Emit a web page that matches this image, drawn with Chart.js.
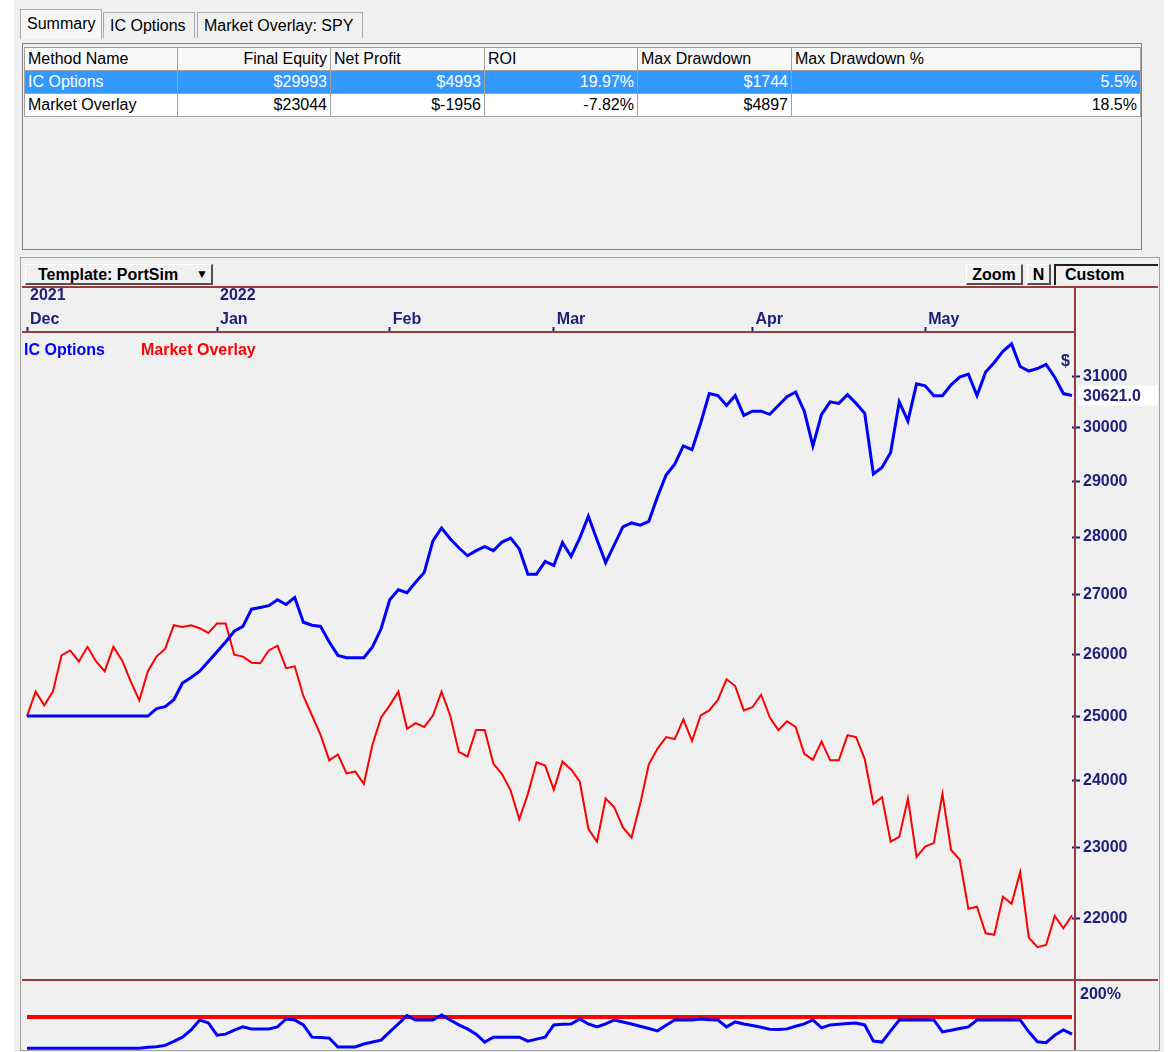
<!DOCTYPE html>
<html lang="en">
<head>
<meta charset="UTF-8" />
<meta name="viewport" content="width=device-width, initial-scale=1.0" />
<title>PortSim - Summary</title>
<style>
  body { margin: 0; width: 1174px; height: 1052px; position: relative; overflow: hidden; background: #ffffff; font-family: "Liberation Sans", Arial, sans-serif; }
  .abs { position: absolute; }
  #window { left: 14px; top: 0; width: 1150px; height: 1052px; background: #f0f0f0; }
  .tab { top: 12px; height: 26px; line-height: 25px; font-size: 16px; padding-left: 6px; border: 1px solid #a9a9a9; border-bottom: none; background: #f0f0f0; box-sizing: border-box; }
  .tab.on { top: 9px; height: 30px; line-height: 27px; background: #f7f7f7; }
  #grid { left: 22px; top: 43px; width: 1120px; height: 207px; border: 1px solid #828282; box-sizing: border-box; background: #f0f0f0; }
  #grid table { border-collapse: collapse; table-layout: fixed; font-size: 16px; margin: 3px 0 0 1px; }
  #grid td, #grid th { height: 22px; padding: 0 3px; border: 1px solid #a0a0a0; white-space: nowrap; font-weight: normal; text-align: left; overflow: hidden; }
  #grid th { background: #f8f8f8; }
  #grid td { background: #ffffff; text-align: right; }
  #grid td.name { text-align: left; }
  #grid th.r { text-align: right; }
  #grid tr.sel td { background: #3399ff; color: #ffffff; }
  #panel { left: 20px; top: 257px; width: 1140px; height: 794px; border: 1px solid #a0a0a0; box-sizing: border-box; }
  .btn { height: 21px; line-height: 19px; font-size: 16px; font-weight: bold; border-top: 1px solid #ffffff; border-left: 1px solid #ffffff; border-right: 2px solid #505050; border-bottom: 2px solid #505050; box-sizing: border-box; background: #f0f0f0; text-align: center; }
  #custom { left: 1054px; top: 264px; width: 104px; height: 21px; border-top: 2px solid #202020; border-left: 2px solid #202020; box-sizing: border-box; font-size: 16px; font-weight: bold; line-height: 18px; padding-left: 9px; }
  .rl { background: #993b3b; z-index: 2; }
  canvas { position: absolute; }
  .lg { font-size: 16px; font-weight: bold; z-index: 3; }
</style>
</head>
<body>
  <div id="window" class="abs"></div>

  <div class="abs tab on" style="left:20px; width:82px;">Summary</div>
  <div class="abs tab" style="left:103px; width:92px;">IC Options</div>
  <div class="abs tab" style="left:197px; width:166px;">Market Overlay: SPY</div>

  <div id="grid" class="abs"><table id="summary"></table></div>

  <div id="panel" class="abs"></div>
  <div class="abs btn" style="left:25px; top:264px; width:188px; text-align:left; padding-left:12px;">Template: PortSim<span style="position:absolute; left:170px; font-size:12px;">&#9660;</span></div>
  <div class="abs btn" style="left:966px; top:264px; width:57px;">Zoom</div>
  <div class="abs btn" style="left:1027px; top:264px; width:24px;">N</div>
  <div id="custom" class="abs">Custom</div>

  <canvas id="mainCanvas" width="1136" height="693" style="left:22px; top:287px;"></canvas>
  <canvas id="ratioCanvas" width="1136" height="70" style="left:22px; top:980px;"></canvas>

  <div class="abs rl" style="left:22px; top:286px; width:1136px; height:2px;"></div>
  <div class="abs rl" style="left:22px; top:331px; width:1053px; height:2px;"></div>
  <div class="abs rl" style="left:22px; top:979px; width:1136px; height:2px;"></div>
  <div class="abs rl" style="left:1074px; top:287px; width:2px; height:763px;"></div>

  <div class="abs lg" style="left:24px; top:341px; color:#0000ff;">IC Options</div>
  <div class="abs lg" style="left:141px; top:341px; color:#ff0000;">Market Overlay</div>
  <div class="abs lg" style="left:1080px; top:985px; color:#20207a;">200%</div>

  <script src="https://cdn.jsdelivr.net/npm/chart.js@4.4.1/dist/chart.umd.min.js"></script>
  <script>
    // summary table
    const summaryHeader = ['Method Name', 'Final Equity', 'Net Profit', 'ROI', 'Max Drawdown', 'Max Drawdown %'];
    const colWidths = [153, 153, 154, 153, 154, 349];
    const methodNames = ['IC Options', 'Market Overlay'];
    const finalEquity = ['$29993', '$23044'];
    const netProfit = ['$4993', '$-1956'];
    const roi = ['19.97%', '-7.82%'];
    const maxDrawdown = ['$1744', '$4897'];
    const maxDrawdownPct = ['5.5%', '18.5%'];

    // trading days shown on the chart
    const dates = [
      '2021-12-01','2021-12-02','2021-12-03','2021-12-06','2021-12-07','2021-12-08','2021-12-09','2021-12-10','2021-12-13','2021-12-14','2021-12-15',
      '2021-12-16','2021-12-17','2021-12-20','2021-12-21','2021-12-22','2021-12-23','2021-12-27','2021-12-28','2021-12-29','2021-12-30','2021-12-31',
      '2022-01-03','2022-01-04','2022-01-05','2022-01-06','2022-01-07','2022-01-10','2022-01-11','2022-01-12','2022-01-13','2022-01-14',
      '2022-01-18','2022-01-19','2022-01-20','2022-01-21','2022-01-24','2022-01-25','2022-01-26','2022-01-27','2022-01-28','2022-01-31',
      '2022-02-01','2022-02-02','2022-02-03','2022-02-04','2022-02-07','2022-02-08','2022-02-09','2022-02-10','2022-02-11','2022-02-14',
      '2022-02-15','2022-02-16','2022-02-17','2022-02-18','2022-02-22','2022-02-23','2022-02-24','2022-02-25','2022-02-28',
      '2022-03-01','2022-03-02','2022-03-03','2022-03-04','2022-03-07','2022-03-08','2022-03-09','2022-03-10','2022-03-11','2022-03-14','2022-03-15',
      '2022-03-16','2022-03-17','2022-03-18','2022-03-21','2022-03-22','2022-03-23','2022-03-24','2022-03-25','2022-03-28','2022-03-29','2022-03-30','2022-03-31',
      '2022-04-01','2022-04-04','2022-04-05','2022-04-06','2022-04-07','2022-04-08','2022-04-11','2022-04-12','2022-04-13','2022-04-14',
      '2022-04-18','2022-04-19','2022-04-20','2022-04-21','2022-04-22','2022-04-25','2022-04-26','2022-04-27','2022-04-28','2022-04-29',
      '2022-05-02','2022-05-03','2022-05-04','2022-05-05','2022-05-06','2022-05-09','2022-05-10','2022-05-11','2022-05-12','2022-05-13',
      '2022-05-16','2022-05-17','2022-05-18','2022-05-19','2022-05-20','2022-05-23','2022-05-24','2022-05-25'
    ];
    const monthNames = ['Jan', 'Feb', 'Mar', 'Apr', 'May', 'Jun', 'Jul', 'Aug', 'Sep', 'Oct', 'Nov', 'Dec'];

    // equity curves ($)
    const icOptions = [
      25000, 25000, 25000, 25000, 25000, 25000, 25000, 25000, 25000, 25000, 25000, 25000, 25000, 25000, 25000,
      25120, 25150, 25260, 25530, 25620, 25720, 25880, 26040, 26200, 26380,
      26460, 26750, 26780, 26810, 26910, 26830, 26950, 26530, 26480, 26460,
      26200, 25980, 25940, 25940, 25940, 26120, 26420, 26910, 27080, 27030,
      27210, 27380, 27930, 28160, 27970, 27810, 27670, 27760, 27830, 27760,
      27910, 27980, 27790, 27350, 27350, 27570, 27500, 27900, 27660, 27980,
      28370, 27950, 27550, 27860, 28180, 28250, 28210, 28280, 28720, 29120,
      29320, 29660, 29590, 30090, 30660, 30620, 30430, 30620, 30240, 30320,
      30320, 30260, 30430, 30600, 30690, 30320, 29660, 30260, 30500, 30470,
      30640, 30470, 30280, 29140, 29260, 29540, 30500, 30130, 30850, 30810,
      30620, 30620, 30830, 30980, 31040, 30620, 31080, 31270, 31490, 31640,
      31190, 31100, 31150, 31230, 30980, 30660, 30621
    ];
    const marketOverlay = [
      25000, 25390, 25170, 25390, 25980, 26060, 25880, 26120, 25880, 25720,
      26120, 25900, 25560, 25250, 25720, 25960, 26090, 26480, 26450, 26480,
      26430, 26350, 26510, 26510, 25990, 25960, 25860, 25850, 26060, 26140,
      25770, 25800, 25320, 25010, 24700, 24310, 24400, 24110, 24140, 23950,
      24550, 24980, 25170, 25390, 24800, 24890, 24830, 25010, 25390, 25010,
      24440, 24370, 24780, 24780, 24260, 24100, 23850, 23420, 23800, 24280,
      24230, 23860, 24290, 24170, 23990, 23280, 23090, 23730, 23600, 23300,
      23150, 23650, 24250, 24490, 24670, 24640, 24950, 24610, 25010, 25090,
      25260, 25590, 25480, 25090, 25140, 25340, 24980, 24780, 24920, 24830,
      24410, 24320, 24600, 24310, 24310, 24700, 24670, 24330, 23650, 23750,
      23090, 23160, 23730, 22870, 23020, 23070, 23800, 22970, 22830, 22130,
      22160, 21790, 21770, 22300, 22200, 22650, 21730, 21600, 21630, 22030,
      21860, 22040
    ];
    const yTicks = [22000, 23000, 24000, 25000, 26000, 27000, 28000, 29000, 30000, 31000];

    // lower pane (%)
    const ratioLine = [
      5, 5, 5, 5, 5, 5, 5, 5, 5, 5, 5, 5, 5, 5,
      8, 10, 14, 26, 39, 61, 91, 82, 45, 48,
      60, 70, 64, 64, 64, 70, 94, 91, 76, 39,
      38, 36, 9, 9, 9, 18, 24, 30, 55, 79,
      104, 91, 91, 91, 106, 91, 76, 64, 48, 24,
      39, 39, 39, 39, 27, 33, 39, 76, 78, 79,
      94, 79, 70, 79, 91, 85, 79, 72, 65, 58,
      75, 91, 91, 91, 94, 92, 91, 70, 85, 79,
      74, 69, 63, 62, 64, 72, 79, 91, 67, 76,
      78, 80, 82, 76, 27, 24, 58, 91, 91, 91,
      91, 91, 55, 60, 65, 70, 91, 91, 91, 91,
      91, 91, 55, 25, 22, 45, 61, 48
    ];
    const ratioLevel = 100;

    const navy = '#20207a';
    const fontFamily = '"Liberation Sans", Arial, sans-serif';

    // build the summary grid
    let html = '<colgroup>' + colWidths.map(w => '<col style="width:' + w + 'px">').join('') + '</colgroup>';
    html += '<tr>' + summaryHeader.map((h, i) => '<th' + (i == 1 ? ' class="r"' : '') + '>' + h + '</th>').join('') + '</tr>';
    methodNames.forEach((name, i) => {
      html += '<tr' + (i == 0 ? ' class="sel"' : '') + '><td class="name">' + name + '</td><td>' + finalEquity[i] + '</td><td>' + netProfit[i] +
        '</td><td>' + roi[i] + '</td><td>' + maxDrawdown[i] + '</td><td>' + maxDrawdownPct[i] + '</td></tr>';
    });
    document.getElementById('summary').innerHTML = html;

    function isMonthStart(i) {
      return i == 0 || dates[i].slice(5, 7) != dates[i - 1].slice(5, 7);
    }

    // last value box and the $ marker on the price axis
    const lastValueTag = {
      id: 'lastValueTag',
      afterDraw(chart) {
        const ctx = chart.ctx;
        const area = chart.chartArea;
        const v = icOptions[icOptions.length - 1];
        const py = chart.scales.y.getPixelForValue(v);
        const x0 = area.right + 6;
        ctx.save();
        ctx.fillStyle = '#ffffff';
        ctx.fillRect(x0, py - 10, chart.width - x0, 20);
        ctx.fillStyle = navy;
        ctx.font = 'bold 16px ' + fontFamily;
        ctx.textBaseline = 'middle';
        ctx.fillText(v.toFixed(1), x0 + 5, py + 1);
        ctx.fillText('$', area.right - 11, area.top + 30);
        ctx.restore();
      }
    };

    new Chart(document.getElementById('mainCanvas'), {
      type: 'line',
      data: {
        labels: dates,
        datasets: [
          { label: 'IC Options', data: icOptions, borderColor: '#0000ff', borderWidth: 3, pointRadius: 0, tension: 0 },
          { label: 'Market Overlay', data: marketOverlay, borderColor: '#ff0000', borderWidth: 2, pointRadius: 0, tension: 0 }
        ]
      },
      options: {
        responsive: false,
        animation: false,
        events: [],
        layout: { padding: { left: 5, right: 0, top: 0, bottom: 0 } },
        plugins: { legend: { display: false }, tooltip: { enabled: false } },
        scales: {
          x: {
            position: 'top',
            offset: false,
            afterBuildTicks: axis => { axis.ticks = axis.ticks.filter(t => isMonthStart(t.value)); },
            afterFit: axis => { axis.height = 45; },
            grid: { drawOnChartArea: false, drawTicks: true, tickLength: 5, tickColor: navy, tickWidth: 2 },
            border: { display: false },
            ticks: {
              autoSkip: false,
              maxRotation: 0,
              align: 'start',
              labelOffset: 3,
              padding: -5,
              color: navy,
              font: { family: fontFamily, size: 16, weight: 'bold', lineHeight: 1.5 },
              callback: function (value) {
                const d = this.getLabelForValue(value);
                const m = parseInt(d.slice(5, 7), 10) - 1;
                const showYear = value == 0 || m == 0;
                return [showYear ? d.slice(0, 4) : '', monthNames[m]];
              }
            }
          },
          y: {
            type: 'logarithmic',
            position: 'right',
            min: 21325,
            max: 31878,
            bounds: 'data',
            afterBuildTicks: axis => { axis.ticks = yTicks.map(v => ({ value: v })); },
            afterFit: axis => { axis.width = 86; },
            grid: { drawOnChartArea: false, drawTicks: true, tickLength: 8, tickColor: navy, tickWidth: 2 },
            border: { display: false },
            ticks: {
              padding: 3,
              color: navy,
              font: { family: fontFamily, size: 16, weight: 'bold' },
              callback: v => String(v)
            }
          }
        }
      },
      plugins: [lastValueTag]
    });

    new Chart(document.getElementById('ratioCanvas'), {
      type: 'line',
      data: {
        labels: dates,
        datasets: [
          { data: [{ x: dates[0], y: ratioLevel }, { x: dates[dates.length - 1], y: ratioLevel }], borderColor: '#ff0000', borderWidth: 4, pointRadius: 0, order: 1 },
          { data: ratioLine, borderColor: '#0000ff', borderWidth: 3, pointRadius: 0, tension: 0, order: 0 }
        ]
      },
      options: {
        responsive: false,
        animation: false,
        events: [],
        layout: { padding: { left: 5, right: 0, top: 4, bottom: 0 } },
        plugins: { legend: { display: false }, tooltip: { enabled: false } },
        scales: {
          x: { display: false, offset: false },
          y: {
            position: 'right',
            min: 0,
            max: 200,
            afterFit: axis => { axis.width = 86; },
            grid: { display: false },
            border: { display: false },
            ticks: { display: false }
          }
        }
      }
    });
  </script>
</body>
</html>
